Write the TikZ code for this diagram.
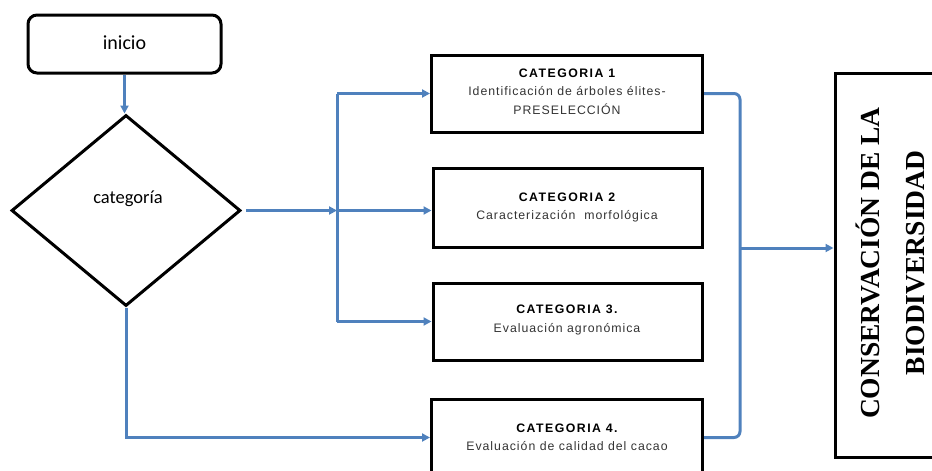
\documentclass[tikz,border=0pt]{standalone}
\usepackage{fontspec}
\setmainfont{Liberation Sans}
\newfontfamily\calib{Carlito}
\newfontfamily\boxbold[LetterSpace=12]{Liberation Sans Bold}
\newfontfamily\boxreg[LetterSpace=8]{Liberation Sans}
\newfontfamily\bigserif{Liberation Serif Bold}
\usetikzlibrary{shapes.geometric,arrows.meta,calc}
\definecolor{flowblue}{HTML}{4F81BD}
\definecolor{txtgray}{HTML}{333333}
\tikzset{
  conn/.style={draw=flowblue,line width=3pt},
  arr/.style={conn,-{Triangle[length=8pt,width=8pt]}},
  catbox/.style={draw=black,line width=3pt,rectangle,minimum width=271pt,minimum height=77pt,inner sep=0pt,align=center},
  catlabel/.style={font=\fontsize{12.3}{18.5}\selectfont,align=center}
}
\newcommand{\cathead}[1]{{\boxbold #1}}
\newcommand{\catsub}[1]{{\boxreg\color{txtgray}#1}}
\begin{document}
\begin{tikzpicture}[x=1pt,y=-1pt]
\useasboundingbox (0,0) rectangle (932,471);
\clip (0,0) rectangle (932,471);
% start
\node[draw=black,line width=3pt,rounded corners=9pt,minimum width=193pt,minimum height=58pt,inner sep=0pt] (ini) at (124.5,44) {};
\node[font=\calib\fontsize{20}{24}\selectfont] (initxt) at (124.5,43) {inicio};
% decision
\node[draw=black,line width=3pt,diamond,minimum width=229pt,minimum height=191pt,inner sep=0pt] (dia) at (126,210.5) {};
\node[font=\calib\fontsize{18.5}{22}\selectfont] (diatxt) at (128,199) {categoría};
% categories
\node[catbox] (c1) at (567,93.5) {};
\node[catlabel] (c1t) at (567,91.5) {\cathead{CATEGORIA 1}\\\catsub{Identificación de árboles élites-}\\\catsub{PRESELECCIÓN}};
\node[catbox,minimum width=269pt,minimum height=79pt] (c2) at (567.5,208) {};
\node[catlabel] (c2t) at (567,207.5) {\cathead{CATEGORIA 2}\\\catsub{Caracterización\ \ morfológica}};
\node[catbox,minimum width=269pt] (c3) at (567.5,321.5) {};
\node[catlabel] (c3t) at (567,320) {\cathead{CATEGORIA 3.}\\\catsub{Evaluación agronómica}};
\node[catbox] (c4) at (567,437.5) {};
\node[catlabel] (c4t) at (567,437.5) {\cathead{CATEGORIA 4.}\\\catsub{Evaluación de calidad del cacao}};
% conservation box
\node[draw=black,line width=3pt,rectangle,minimum width=112pt,minimum height=384pt,inner sep=0pt] (cons) at (891,265) {};
\node[rotate=90,font=\bigserif\fontsize{27.5}{45}\selectfont,align=center] (constxt) at (890.5,263) {CONSERVACIÓN DE LA\\BIODIVERSIDAD};
% junctions
\coordinate (j1) at (337,93.5);
\coordinate (j2) at (337,210.5);
\coordinate (j3) at (337,321.5);
\coordinate (jr) at (740,248);
% connectors
\draw[arr] (ini.south) -- (ini.south |- dia.north);
\draw[arr] ($(dia.east)+(4,0)$) -- (j2);
\draw[conn] (j1) -- (j3);
\draw[arr] (j1) -- (c1.west);
\draw[arr] (j2) -- (c2.west |- j2);
\draw[arr] (j3) -- (c3.west);
\draw[arr] (dia.south) |- (c4.west);
\draw[conn,rounded corners=6pt] (c1.east) -- (c1.east -| jr) -- (c4.east -| jr) -- (c4.east);
\draw[arr] (jr) -- (cons.west |- jr);
\end{tikzpicture}
\end{document}
